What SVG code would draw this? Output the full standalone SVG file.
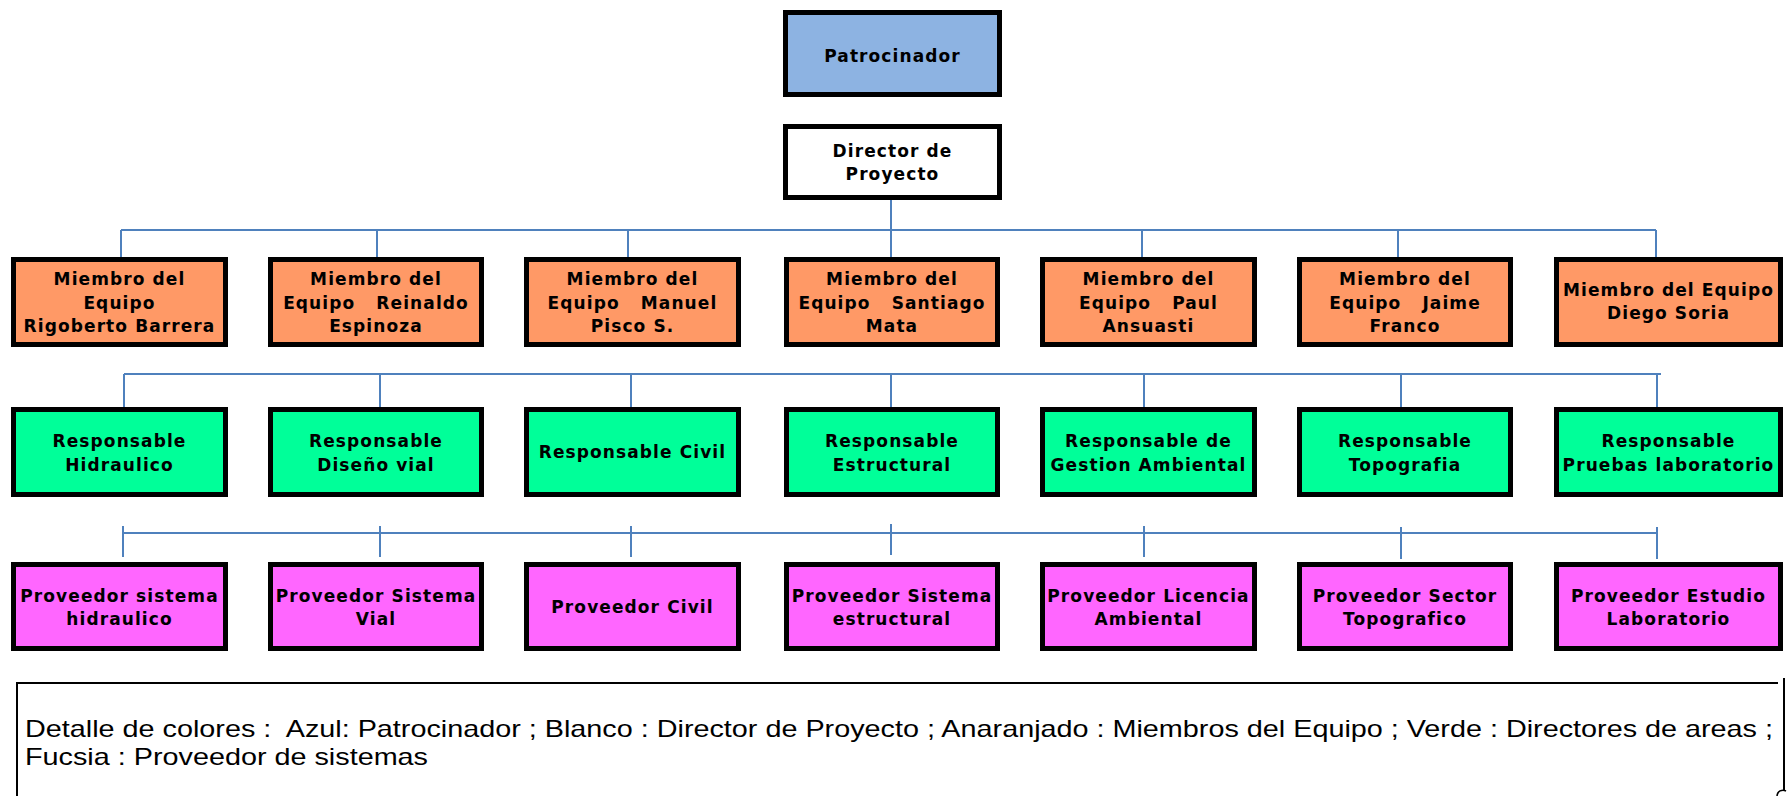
<svg xmlns="http://www.w3.org/2000/svg" width="1787" height="796" viewBox="0 0 1787 796">
<style>
.box{stroke:#000;stroke-width:5}
.blue{fill:#8DB3E2}
.white{fill:#FFFFFF}
.orange{fill:#FF9966}
.green{fill:#00FF99}
.pink{fill:#FF66FF}
.t{font-family:"DejaVu Sans",Verdana,sans-serif;font-weight:bold;font-size:17px;letter-spacing:1.1px;text-anchor:middle;fill:#000;white-space:pre}
.c{stroke:#4F81BD;stroke-width:2;fill:none}
.leg{font-family:"Liberation Sans",Arial,sans-serif;font-size:24px;fill:#000;white-space:pre}
</style>
<rect width="1787" height="796" fill="#fff"/>
<g id="connectors">
<path class="c" d="M891,200 V257 M121,230 H1656 M121,230 V257 M377,230 V257 M628,230 V257 M1142,230 V257 M1398,230 V257 M1656,230 V257"/>
<path class="c" d="M124,374 H1661 M124,374 V407 M380,374 V407 M631,374 V407 M891,374 V407 M1144,374 V407 M1401,374 V407 M1657,374 V407"/>
<path class="c" d="M123,533 H1657 M123,526 V557 M380,526 V557 M631,526 V557 M891,524 V555 M1144,526 V557 M1401,527 V559 M1657,527 V559"/>
</g>
<g id="patrocinador"><rect class="box blue" x="785.5" y="12.5" width="214" height="82"/><text class="t" x="892.5" y="62">Patrocinador</text></g>
<g id="director"><rect class="box white" x="785.5" y="126.5" width="214" height="71"/><text class="t" x="892.5" y="157">Director de</text><text class="t" x="892.5" y="180">Proyecto</text></g>
<g id="m1"><rect class="box orange" x="13.5" y="259.5" width="212" height="85"/><text class="t" x="119.5" y="285">Miembro del</text><text class="t" x="119.5" y="308.5">Equipo</text><text class="t" x="119.5" y="332">Rigoberto Barrera</text></g>
<g id="m2"><rect class="box orange" x="270.5" y="259.5" width="211" height="85"/><text class="t" x="376" y="285">Miembro del</text><text class="t" x="376" y="308.5" xml:space="preserve">Equipo   Reinaldo</text><text class="t" x="376" y="332">Espinoza</text></g>
<g id="m3"><rect class="box orange" x="526.5" y="259.5" width="212" height="85"/><text class="t" x="632.5" y="285">Miembro del</text><text class="t" x="632.5" y="308.5" xml:space="preserve">Equipo   Manuel</text><text class="t" x="632.5" y="332">Pisco S.</text></g>
<g id="m4"><rect class="box orange" x="786.5" y="259.5" width="211" height="85"/><text class="t" x="892" y="285">Miembro del</text><text class="t" x="892" y="308.5" xml:space="preserve">Equipo   Santiago</text><text class="t" x="892" y="332">Mata</text></g>
<g id="m5"><rect class="box orange" x="1042.5" y="259.5" width="212" height="85"/><text class="t" x="1148.5" y="285">Miembro del</text><text class="t" x="1148.5" y="308.5" xml:space="preserve">Equipo   Paul</text><text class="t" x="1148.5" y="332">Ansuasti</text></g>
<g id="m6"><rect class="box orange" x="1299.5" y="259.5" width="211" height="85"/><text class="t" x="1405" y="285">Miembro del</text><text class="t" x="1405" y="308.5" xml:space="preserve">Equipo   Jaime</text><text class="t" x="1405" y="332">Franco</text></g>
<g id="m7"><rect class="box orange" x="1556.5" y="259.5" width="224" height="85"/><text class="t" x="1668.5" y="296">Miembro del Equipo</text><text class="t" x="1668.5" y="319">Diego Soria</text></g>
<g id="r1"><rect class="box green" x="13.5" y="409.5" width="212" height="85"/><text class="t" x="119.5" y="447">Responsable</text><text class="t" x="119.5" y="471">Hidraulico</text></g>
<g id="r2"><rect class="box green" x="270.5" y="409.5" width="211" height="85"/><text class="t" x="376" y="447">Responsable</text><text class="t" x="376" y="471">Diseño vial</text></g>
<g id="r3"><rect class="box green" x="526.5" y="409.5" width="212" height="85"/><text class="t" x="632.5" y="458">Responsable Civil</text></g>
<g id="r4"><rect class="box green" x="786.5" y="409.5" width="211" height="85"/><text class="t" x="892" y="447">Responsable</text><text class="t" x="892" y="471">Estructural</text></g>
<g id="r5"><rect class="box green" x="1042.5" y="409.5" width="212" height="85"/><text class="t" x="1148.5" y="447">Responsable de</text><text class="t" x="1148.5" y="471">Gestion Ambiental</text></g>
<g id="r6"><rect class="box green" x="1299.5" y="409.5" width="211" height="85"/><text class="t" x="1405" y="447">Responsable</text><text class="t" x="1405" y="471">Topografia</text></g>
<g id="r7"><rect class="box green" x="1556.5" y="409.5" width="224" height="85"/><text class="t" x="1668.5" y="447">Responsable</text><text class="t" x="1668.5" y="471">Pruebas laboratorio</text></g>
<g id="p1"><rect class="box pink" x="13.5" y="564.5" width="212" height="84"/><text class="t" x="119.5" y="602">Proveedor sistema</text><text class="t" x="119.5" y="625">hidraulico</text></g>
<g id="p2"><rect class="box pink" x="270.5" y="564.5" width="211" height="84"/><text class="t" x="376" y="602">Proveedor Sistema</text><text class="t" x="376" y="625">Vial</text></g>
<g id="p3"><rect class="box pink" x="526.5" y="564.5" width="212" height="84"/><text class="t" x="632.5" y="613">Proveedor Civil</text></g>
<g id="p4"><rect class="box pink" x="786.5" y="564.5" width="211" height="84"/><text class="t" x="892" y="602">Proveedor Sistema</text><text class="t" x="892" y="625">estructural</text></g>
<g id="p5"><rect class="box pink" x="1042.5" y="564.5" width="212" height="84"/><text class="t" x="1148.5" y="602">Proveedor Licencia</text><text class="t" x="1148.5" y="625">Ambiental</text></g>
<g id="p6"><rect class="box pink" x="1299.5" y="564.5" width="211" height="84"/><text class="t" x="1405" y="602">Proveedor Sector</text><text class="t" x="1405" y="625">Topografico</text></g>
<g id="p7"><rect class="box pink" x="1556.5" y="564.5" width="224" height="84"/><text class="t" x="1668.5" y="602">Proveedor Estudio</text><text class="t" x="1668.5" y="625">Laboratorio</text></g>
<g id="legend">
<path d="M17,796 V683 H1778 M1784,678 V790" stroke="#000" stroke-width="2" fill="none"/>
<path d="M1777,796 A6,6 0 0 1 1786,791" stroke="#000" stroke-width="1.5" fill="none"/>
<text class="leg" x="25" y="737" textLength="1748" lengthAdjust="spacingAndGlyphs" xml:space="preserve">Detalle de colores :  Azul: Patrocinador ; Blanco : Director de Proyecto ; Anaranjado : Miembros del Equipo ; Verde : Directores de areas ;</text>
<text class="leg" x="25" y="765" textLength="403" lengthAdjust="spacingAndGlyphs">Fucsia : Proveedor de sistemas</text>
</g>
</svg>
